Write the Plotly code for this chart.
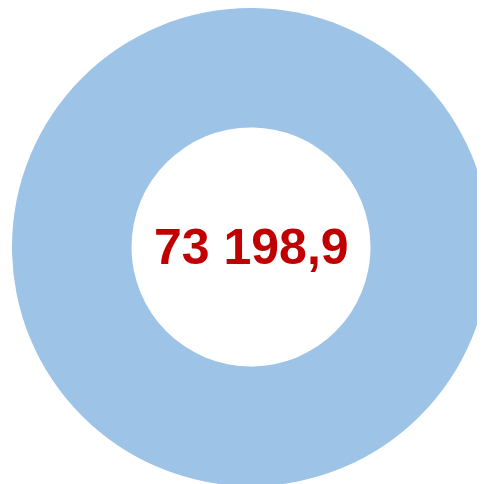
import plotly.graph_objects as go

labels = ["Total"]
values = [73198.9]
center_text = "73 198,9"

fig = go.Figure(go.Pie(
    labels=labels,
    values=values,
    hole=0.5,
    sort=False,
    textinfo="none",
    hoverinfo="label+value",
    marker=dict(colors=["#9DC3E6"], line=dict(width=0)),
    domain=dict(x=[0.008, 0.964], y=[0.044, 1.0]),
    showlegend=False,
))
fig.add_annotation(
    text="<b>" + center_text + "</b>", x=0.486, y=0.522, xref="paper", yref="paper",
    showarrow=False,
    font=dict(family="Liberation Sans, Arial, sans-serif", size=50, color="#C00000"),
)
fig.update_layout(
    width=500, height=500,
    margin=dict(l=0, r=0, t=0, b=0),
    paper_bgcolor="white", plot_bgcolor="white",
)
fig.write_html("out.html")
